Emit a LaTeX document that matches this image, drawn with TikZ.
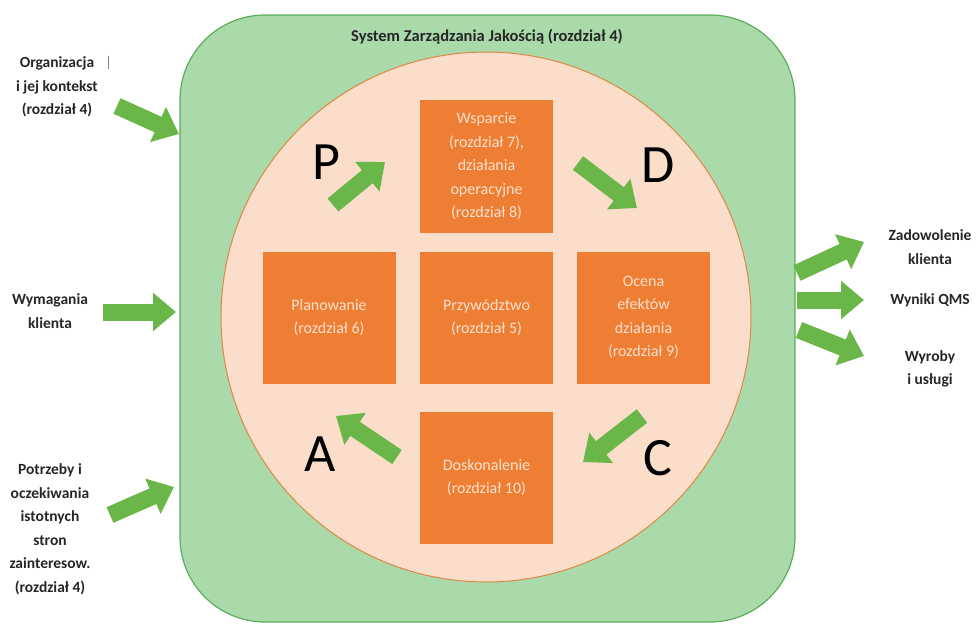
\documentclass[tikz,border=0pt]{standalone}
\usepackage{fontspec}
\setmainfont{Carlito}
\usetikzlibrary{arrows.meta}
\definecolor{sysgreen}{RGB}{170,217,170}
\definecolor{sysedge}{RGB}{92,172,92}
\definecolor{arrowgreen}{RGB}{106,182,72}
\definecolor{peach}{RGB}{251,222,202}
\definecolor{ringorange}{RGB}{222,135,70}
\definecolor{boxorange}{RGB}{238,126,52}
\definecolor{boxtext}{RGB}{252,224,204}
\definecolor{labelgray}{RGB}{38,38,38}
\tikzset{
  procbox/.style = {fill = boxorange, text = boxtext, minimum width = 133pt,
    minimum height = 132pt, inner sep = 0pt, align = center,
    font = \fontsize{16}{23.5}\selectfont},
  outlabel/.style = {text = labelgray, align = center,
    font = \bfseries\fontsize{15.5}{23.5}\selectfont},
  pdcaletter/.style = {font = \fontsize{54}{60}\selectfont},
  blockarrow/.style = {arrowgreen, line width = 17pt,
    -{Triangle[length = 23pt 0 0, width = 37pt 0 0]}},
}
\begin{document}
\begin{tikzpicture}[x = 1pt, y = -1pt]
      \useasboundingbox (0, 0) rectangle (978, 626);
      % system frame and PDCA circle
      \draw [fill = sysgreen, draw = sysedge, line width = 1.2pt, rounded corners = 85pt] (180, 15) rectangle (795, 622);
      \draw [fill = peach, draw = ringorange, line width = 1pt] (486, 317) circle [radius = 265];
      \node [font = \bfseries\fontsize{16.5}{20}\selectfont, text = labelgray] (title) at (487, 37) {System Zarządzania Jakością (rozdział 4)};
      % chapters
      \node [procbox] (support) at (486.5, 166.5) {Wsparcie\\(rozdział 7),\\działania\\operacyjne\\(rozdział 8)};
      \node [procbox] (plan) at (329, 317.5) {Planowanie\\(rozdział 6)};
      \node [procbox] (lead) at (486.5, 317.5) {Przywództwo\\(rozdział 5)};
      \node [procbox] (eval) at (643.5, 317.5) {Ocena\\efektów\\działania\\(rozdział 9)};
      \node [procbox] (improve) at (486.5, 477.5) {Doskonalenie\\(rozdział 10)};
      \foreach \ltr/\px/\py in {P/326/162, D/658/165, A/320/454, C/658/458}{
        \node [pdcaletter] (letter\ltr) at (\px, \py) {\ltr};
      }
      % cycle arrows
      \coordinate (pTail) at (333, 205);
      \coordinate (pTip) at (385, 162);
      \coordinate (dTail) at (578, 163);
      \coordinate (dTip) at (637, 208);
      \coordinate (cTail) at (642, 416);
      \coordinate (cTip) at (583, 462);
      \coordinate (aTail) at (397, 457);
      \coordinate (aTip) at (336, 416);
      \foreach \s in {p, d, c, a}{
        \draw [blockarrow] (\s Tail) -- (\s Tip);
      }
      % inputs
      \node [outlabel] (org) at (57, 87) {Organizacja\\i jej kontekst\\(rozdział 4)};
      \draw [gray, line width = 0.7pt] (108, 56) -- (108, 69);
      \node [outlabel] (req) at (50, 311) {Wymagania\\klienta};
      \node [outlabel] (needs) at (50, 529) {Potrzeby i\\oczekiwania\\istotnych\\stron\\zainteresow.\\(rozdział 4)};
      \coordinate (orgTail) at (117, 106);
      \coordinate (orgTip) at (179, 134);
      \coordinate (reqTail) at (103, 312);
      \coordinate (reqTip) at (176, 312);
      \coordinate (needsTail) at (110, 515);
      \coordinate (needsTip) at (174, 487);
      \foreach \s in {org, req, needs}{
        \draw [blockarrow] (\s Tail) -- (\s Tip);
      }
      % outputs
      \node [outlabel] (satisf) at (930, 247) {Zadowolenie\\klienta};
      \node [outlabel] (results) at (930, 300) {Wyniki QMS};
      \node [outlabel] (products) at (930, 369) {Wyroby\\i usługi};
      \coordinate (satisfTail) at (797, 273);
      \coordinate (satisfTip) at (864, 242);
      \coordinate (resultsTail) at (797, 300);
      \coordinate (resultsTip) at (864, 300);
      \coordinate (productsTail) at (799, 330);
      \coordinate (productsTip) at (864, 356);
      \foreach \s in {satisf, results, products}{
        \draw [blockarrow] (\s Tail) -- (\s Tip);
      }
    \end{tikzpicture}
\end{document}
